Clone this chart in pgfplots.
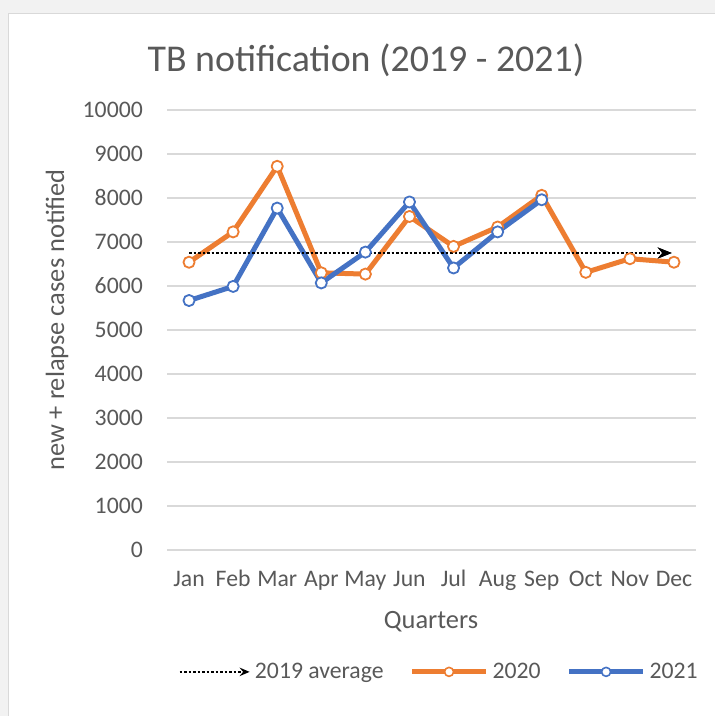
\documentclass[border=0pt]{standalone}
\usepackage{fontspec}
\setmainfont{Carlito}
\usepackage{pgfplots}
\pgfplotsset{compat=1.18}
\usetikzlibrary{arrows.meta}
\definecolor{orng}{HTML}{ED7D31}
\definecolor{blu}{HTML}{4472C4}
\definecolor{txt}{HTML}{595959}
\definecolor{grd}{HTML}{D9D9D9}
\definecolor{bgc}{HTML}{F2F2F2}
\pgfplotsset{avgstyle/.style={black, line width=2.7bp, dash pattern=on 2.7bp off 1.8bp, -{Stealth[length=14bp,width=11bp,inset=4.5bp]}}}
\begin{document}
\begin{tikzpicture}[x=1bp,y=1bp]
\useasboundingbox (0,0) rectangle (715,716);
\fill[bgc] (0,0) rectangle (715,716);
\filldraw[fill=white,draw=grd,line width=1.2bp] (8.5,-2) rectangle (720,702.5);
\node[text=txt,font=\fontsize{38}{46}\selectfont] at (366,656) {TB notification (2019 - 2021)};
\node[text=txt,font=\fontsize{26.5}{32}\selectfont,rotate=90] at (57,396) {new + relapse cases notified};
\node[text=txt,font=\fontsize{26.5}{32}\selectfont] at (431,94) {Quarters};
\begin{axis}[
  at={(167bp,166bp)}, anchor=south west,
  scale only axis, width=529bp, height=440bp,
  xmin=-0.5, xmax=11.5, ymin=0, ymax=10000,
  xtick={0,...,11},
  xticklabels={Jan,Feb,Mar,Apr,May,Jun,Jul,Aug,Sep,Oct,Nov,Dec},
  ytick={0,1000,...,10000},
  ymajorgrids, grid style={grd, line width=1.3bp},
  axis line style={draw=none},
  major tick length=0pt,
  tick label style={text=txt, font=\fontsize{23.8}{28}\selectfont},
  yticklabel style={anchor=east, inner xsep=0pt, xshift=-24bp},
  xticklabel style={anchor=base, inner ysep=0pt, yshift=-37bp},
  scaled y ticks=false,
  /pgf/number format/.cd, 1000 sep={}, assume math mode=true,
  /pgfplots/.cd,
  clip=false,
  legend columns=3,
  legend style={draw=none, fill=none, at={(0.516,-0.277)}, anchor=center,
    font=\fontsize{23.8}{28}\selectfont, text=txt,
    /tikz/every even column/.append style={column sep=22bp},
    nodes={inner xsep=4bp, inner ysep=0pt}},
  legend cell align=left,
]
\addplot[avgstyle,
  legend image code/.code={\draw[black, line width=2.7bp, dash pattern=on 2.7bp off 1.8bp, -{Stealth[length=10bp,width=8.5bp,inset=3.5bp]}] (0bp,0bp) -- (70bp,0bp);}]
  coordinates {(0,6750) (10.95,6750)};
\addlegendentry{2019 average}
\addplot[orng, line width=5bp, line join=round, mark=*, mark size=5.6bp,
  mark options={fill=white, draw=orng, line width=1.8bp},
  legend image code/.code={\draw[orng, line width=5bp] (0bp,0bp) -- (74bp,0bp);
    \draw[orng, fill=white, line width=1.6bp] (37bp,0bp) circle (4.5bp);}]
  coordinates {(0,6540) (1,7230) (2,8720) (3,6300) (4,6270) (5,7580) (6,6900) (7,7340) (8,8060) (9,6310) (10,6620) (11,6540)};
\addlegendentry{2020}
\addplot[blu, line width=5bp, line join=round, mark=*, mark size=5.6bp,
  mark options={fill=white, draw=blu, line width=1.8bp},
  legend image code/.code={\draw[blu, line width=5bp] (0bp,0bp) -- (74bp,0bp);
    \draw[blu, fill=white, line width=1.6bp] (37bp,0bp) circle (4.5bp);}]
  coordinates {(0,5670) (1,5990) (2,7770) (3,6070) (4,6770) (5,7910) (6,6410) (7,7230) (8,7960)};
\addlegendentry{2021}
\addplot[avgstyle, forget plot] coordinates {(0,6750) (10.95,6750)};
\end{axis}
\end{tikzpicture}
\end{document}
